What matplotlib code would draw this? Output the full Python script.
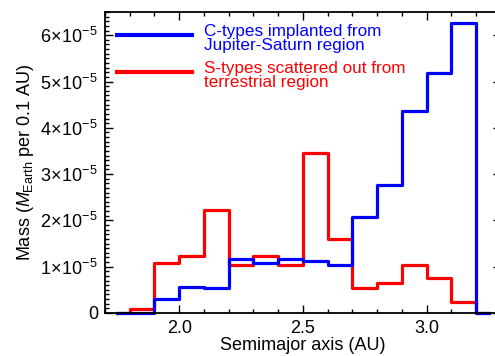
import numpy as np
import matplotlib.pyplot as plt
from matplotlib.ticker import MultipleLocator, FixedLocator, FixedFormatter

plt.rcParams['font.family'] = ['Liberation Sans', 'DejaVu Sans']
plt.rcParams['mathtext.fontset'] = 'custom'
plt.rcParams['mathtext.rm'] = 'Liberation Sans'
plt.rcParams['mathtext.it'] = 'Liberation Sans:italic'

# Bin centres (AU), 0.1 AU bins
a_centres = [1.75, 1.85, 1.95, 2.05, 2.15, 2.25, 2.35, 2.45, 2.55, 2.65,
             2.75, 2.85, 2.95, 3.05, 3.15, 3.25]

# Mass per bin, in units of 1e-5 Earth masses
c_types = [0.0, 0.0, 0.30, 0.57, 0.53, 1.16, 1.07, 1.16, 1.12, 1.04,
           2.08, 2.76, 4.36, 5.19, 6.26, 0.0]
s_types = [0.0, 0.08, 1.07, 1.23, 2.22, 1.04, 1.23, 1.04, 3.45, 1.60,
           0.53, 0.65, 1.04, 0.76, 0.23, 0.0]

c_label = 'C-types implanted from\nJupiter-Saturn region'
s_label = 'S-types scattered out from\nterrestrial region'

ytick_vals = [0, 1, 2, 3, 4, 5, 6]
ytick_labels = ['0'] + [r'$%d\!\times\!10^{-5}$' % v for v in ytick_vals[1:]]

x = np.array(a_centres)
c = np.array(c_types) * 1e-5
s = np.array(s_types) * 1e-5

fig = plt.figure(figsize=(4.95, 3.56), dpi=100)
ax = fig.add_axes([0.212, 0.121, 0.8, 0.845])

ax.step(x, s, where='mid', color='red', lw=2.3, clip_on=False)
ax.step(x, c, where='mid', color='blue', lw=2.3, clip_on=False)

ax.set_xlim(1.7, 3.3)
ax.set_ylim(0, 6.5e-5)

ax.xaxis.set_major_locator(FixedLocator([2.0, 2.5, 3.0]))
ax.xaxis.set_major_formatter(FixedFormatter(['2.0', '2.5', '3.0']))
ax.xaxis.set_minor_locator(MultipleLocator(0.1))
ax.yaxis.set_major_locator(FixedLocator([v * 1e-5 for v in ytick_vals]))
ax.yaxis.set_major_formatter(FixedFormatter(ytick_labels))
ax.yaxis.set_minor_locator(MultipleLocator(0.1e-5))

ax.tick_params(which='both', direction='in', top=True, right=True,
               labelsize=13, width=1.0)
ax.tick_params(which='major', length=6, pad=5)
ax.tick_params(which='minor', length=3)
ax.tick_params(axis='y', which='minor', right=False)
for sp in ax.spines.values():
    sp.set_linewidth(1.3)

ax.set_xlabel('Semimajor axis (AU)', fontsize=13, labelpad=0)
ax.set_ylabel(r'Mass ($\mathit{M}_{\rm Earth}$ per 0.1 AU)', fontsize=13, labelpad=3)

# legend drawn by hand in IDL style
ax.plot([1.75, 2.05], [6.0e-5, 6.0e-5], color='blue', lw=3)
ax.plot([1.75, 2.05], [5.2e-5, 5.2e-5], color='red', lw=3)
ax.text(2.1, 5.93e-5, c_label, color='blue', fontsize=12.3, va='center',
        linespacing=0.88)
ax.text(2.1, 5.13e-5, s_label, color='red', fontsize=12.3, va='center',
        linespacing=0.88)

fig.savefig('out.png', dpi=100)
